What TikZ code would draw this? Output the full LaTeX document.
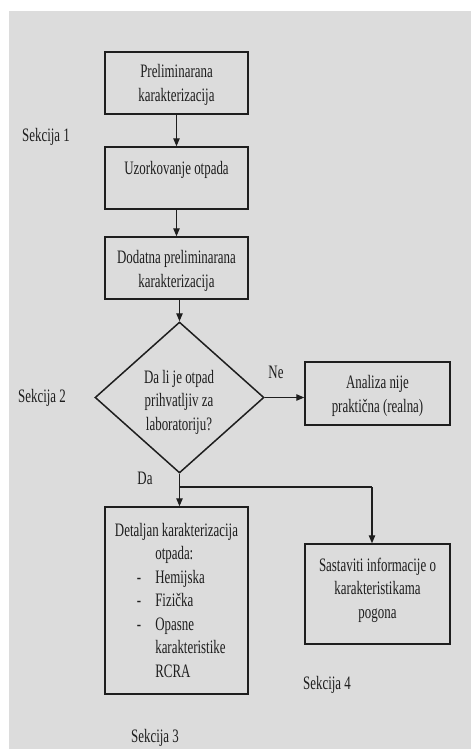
\documentclass[tikz,border=0pt]{standalone}
\usepackage{fontspec}
\setmainfont{Liberation Serif}[FakeStretch=0.68]
\usetikzlibrary{shapes.geometric,arrows.meta}
\definecolor{bg}{RGB}{220,220,220}
\definecolor{ink}{RGB}{30,30,30}
\begin{document}
\begin{tikzpicture}[x=1pt,y=-1pt,
  box/.style={draw=ink,line width=1.5pt,rectangle,inner sep=0pt},
  txt/.style={font=\fontsize{19}{23.5}\selectfont,align=center,text=ink,inner sep=0pt},
  lbl/.style={font=\fontsize{19}{23.5}\selectfont,text=ink,inner sep=0pt},
  arr/.style={draw=ink,line width=1.2pt,-{Triangle[length=8pt,width=6.5pt]}},
  ln/.style={draw=ink,line width=1.2pt}]
\useasboundingbox (0,0) rectangle (471,749);
\fill[bg] (9,11) rectangle (471,749);

% boxes
\node[box,minimum width=143pt,minimum height=62pt] (b1) at (176.5,83) {};
\node[box,minimum width=143pt,minimum height=62pt] (b2) at (176.5,178) {};
\node[box,minimum width=143pt,minimum height=62pt] (b3) at (176.5,268) {};
\node[draw=ink,line width=1.5pt,diamond,minimum width=169pt,minimum height=151pt,inner sep=0pt] (dia) at (179.5,397.5) {};
\node[box,minimum width=145pt,minimum height=63pt] (b4) at (377.5,393.5) {};
\node[box,minimum width=143pt,minimum height=187pt] (b5) at (176.5,600.5) {};
\node[box,minimum width=145pt,minimum height=100pt] (b6) at (377.5,594) {};

% texts
\node[txt] (t1) at (176.5,85) {Preliminarana\\karakterizacija};
\node[txt] (t2) at (176.5,170) {Uzorkovanje otpada};
\node[txt] (t3) at (176.5,271) {Dodatna preliminarana\\karakterizacija};
\node[txt] (td) at (179,402) {Da li je otpad\\prihvatljiv za\\laboratoriju?};
\node[txt] (t4) at (377.5,396) {Analiza nije\\praktična (realna)};
\node[txt] (t6) at (377.5,590) {Sastaviti informacije o\\karakteristikama\\pogona};
\node[txt] (t5) at (176.5,602) {\begin{tabular}{@{\hspace{22pt}}l@{\hspace{14pt}}l@{}}
\multicolumn{2}{@{}c@{}}{Detaljan karakterizacija}\\
 & otpada:\\
- & Hemijska\\
- & Fizička\\
- & Opasne\\
 & karakteristike\\
 & RCRA
\end{tabular}};

% labels
\node[lbl] (s1) at (46,137) {Sekcija 1};
\node[lbl] (s2) at (42,398) {Sekcija 2};
\node[lbl] (s3) at (155,738) {Sekcija 3};
\node[lbl] (s4) at (327,685) {Sekcija 4};
\node[lbl] (ne) at (276,372) {Ne};
\node[lbl] (da) at (145,478) {Da};

% connectors
\draw[arr] (b1) -- (b2);
\draw[arr] (b2) -- (b3);
\draw[arr] (b3.south -| dia.north) -- (dia.north);
\draw[arr] (dia.east) -- (b4.west |- dia.east);
\coordinate (j) at (179.5,487);
\coordinate (j2) at (372,487);
\draw[ln] (dia.south) -- (j);
\draw[arr] (j) -- (b5.north -| j);
\draw[ln] (j) -- (j2);
\draw[arr] (j2) -- (b6.north -| j2);
\end{tikzpicture}
\end{document}
